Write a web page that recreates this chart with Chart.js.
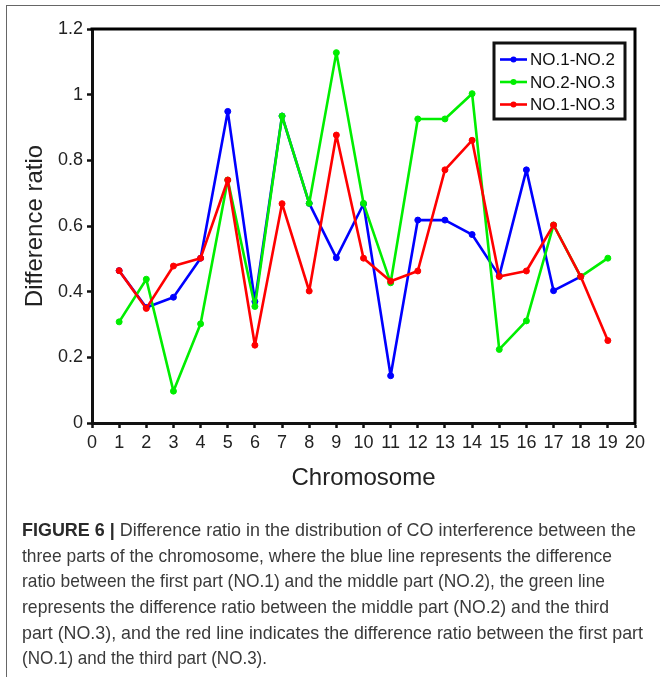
<!DOCTYPE html>
<html>
<head>
<meta charset="utf-8">
<script src="https://cdn.jsdelivr.net/npm/chart.js@4.4.1/dist/chart.umd.min.js"></script>
<style>
  html, body { margin: 0; padding: 0; background: #fff; }
  #wrap { position: relative; width: 660px; height: 677px; overflow: hidden; }
  #frameTop { position: absolute; left: 7px; top: 5px; width: 653px; height: 0; border-top: 1.5px solid #666; }
  #frameLeft { position: absolute; left: 6px; top: 5px; width: 0; height: 672px; border-left: 1.5px solid #666; }
  canvas { position: absolute; left: 0; top: 0; }
  .cap { position: absolute; left: 22px; white-space: nowrap; font-family: "Liberation Sans Narrow", "Liberation Sans", Arial, sans-serif; font-size: 19px; line-height: 20px; color: #3a3a3a; transform-origin: 0 50%; }
  .cap b { color: #2a2a2a; }
</style>
</head>
<body>
<div id="wrap">
  <div id="frameTop"></div>
  <div id="frameLeft"></div>
  <canvas id="c" width="660" height="677"></canvas>
  <div class="cap" data-w="614" style="top:520px"><b>FIGURE 6 |</b> Difference ratio in the distribution of CO interference between the</div>
  <div class="cap" data-w="590" style="top:546px">three parts of the chromosome, where the blue line represents the difference</div>
  <div class="cap" data-w="583" style="top:571px">ratio between the first part (NO.1) and the middle part (NO.2), the green line</div>
  <div class="cap" data-w="587" style="top:597px">represents the difference ratio between the middle part (NO.2) and the third</div>
  <div class="cap" data-w="621" style="top:623px">part (NO.3), and the red line indicates the difference ratio between the first part</div>
  <div class="cap" data-w="245" style="top:648px">(NO.1) and the third part (NO.3).</div>
</div>
<script>
// ---- data ----
const chromosomes = [1, 2, 3, 4, 5, 6, 7, 8, 9, 10, 11, 12, 13, 14, 15, 16, 17, 18, 19];
const seriesNames = ['NO.1-NO.2', 'NO.2-NO.3', 'NO.1-NO.3'];
const no12 = [0.464, 0.352, 0.383, 0.502, 0.949, 0.370, 0.935, 0.669, 0.503, 0.667, 0.144, 0.618, 0.618, 0.574, 0.448, 0.771, 0.403, 0.446, null];
const no23 = [0.308, 0.438, 0.097, 0.302, 0.740, 0.355, 0.935, 0.669, 1.128, 0.669, 0.427, 0.926, 0.926, 1.003, 0.224, 0.311, 0.603, 0.446, 0.502];
const no13 = [0.464, 0.349, 0.478, 0.502, 0.740, 0.237, 0.668, 0.402, 0.877, 0.502, 0.432, 0.463, 0.771, 0.861, 0.446, 0.463, 0.603, 0.446, 0.251];
const xTickLabels = ['0','1','2','3','4','5','6','7','8','9','10','11','12','13','14','15','16','17','18','19','20'];
const yTickLabels = ['0','0.2','0.4','0.6','0.8','1','1.2'];

const FONT = '"Liberation Sans", Arial, sans-serif';
const colors = ['#0000ff', '#00ee00', '#ff0000'];
const seriesValues = [no12, no23, no13];

function toPoints(vals) {
  return chromosomes.map((c, i) => ({ x: c, y: vals[i] }));
}

const datasets = seriesValues.map((vals, i) => ({
  label: seriesNames[i],
  data: toPoints(vals),
  borderColor: colors[i],
  backgroundColor: colors[i],
  borderWidth: 2.6,
  borderJoinStyle: 'round',
  borderCapStyle: 'round',
  pointRadius: 3,
  pointBorderWidth: 1,
  pointBackgroundColor: colors[i],
  pointBorderColor: colors[i],
  tension: 0,
  spanGaps: false,
  order: 3 - i
}));

const framePlugin = {
  id: 'frame',
  afterDatasetsDraw(chart) {
    const { ctx, chartArea: a } = chart;
    ctx.save();
    ctx.strokeStyle = '#000';
    ctx.lineWidth = 3;
    ctx.beginPath();
    ctx.moveTo(a.left - 1.5, a.top);
    ctx.lineTo(a.right, a.top);
    ctx.lineTo(a.right, a.bottom + 1.5);
    ctx.stroke();
    ctx.restore();
  }
};

const legendPlugin = {
  id: 'customLegend',
  afterDraw(chart) {
    const { ctx } = chart;
    const bx = 494, by = 43, bw = 131, bh = 76;
    ctx.save();
    ctx.fillStyle = '#fff';
    ctx.fillRect(bx, by, bw, bh);
    ctx.strokeStyle = '#111';
    ctx.lineWidth = 3;
    ctx.strokeRect(bx, by, bw, bh);
    const rows = [59.5, 82, 104.5];
    chart.data.datasets.forEach((ds, i) => {
      const y = rows[i];
      ctx.strokeStyle = ds.borderColor;
      ctx.lineWidth = 2.6;
      ctx.beginPath();
      ctx.moveTo(500, y);
      ctx.lineTo(527, y);
      ctx.stroke();
      ctx.fillStyle = ds.borderColor;
      ctx.beginPath();
      ctx.arc(513.5, y, 3, 0, Math.PI * 2);
      ctx.fill();
      ctx.fillStyle = '#111';
      ctx.font = '17px ' + FONT;
      ctx.textBaseline = 'middle';
      ctx.textAlign = 'left';
      ctx.fillText(ds.label, 530, y + 1);
    });
    ctx.restore();
  }
};

new Chart(document.getElementById('c'), {
  type: 'line',
  data: { datasets },
  plugins: [framePlugin, legendPlugin],
  options: {
    responsive: false,
    animation: false,
    events: [],
    layout: { padding: { left: 0, top: 29, right: 25, bottom: 177 } },
    plugins: { legend: { display: false }, tooltip: { enabled: false } },
    scales: {
      x: {
        type: 'linear',
        min: 0, max: 20,
        afterFit(s) { s.height = 77; },
        ticks: {
          stepSize: 1,
          autoSkip: false,
          maxRotation: 0,
          color: '#222',
          padding: 4,
          font: { size: 18, family: FONT },
          callback: (v) => xTickLabels[Math.round(v)]
        },
        grid: { drawOnChartArea: false, drawTicks: true, tickLength: 5, tickWidth: 2.5, tickColor: '#111' },
        border: { display: true, color: '#111', width: 3 },
        title: { display: true, text: 'Chromosome', color: '#222', font: { size: 24, family: FONT, lineHeight: 1 }, padding: { top: 0, bottom: 10 } }
      },
      y: {
        type: 'linear',
        min: 0, max: 1.2,
        afterFit(s) { s.width = 92; },
        ticks: {
          stepSize: 0.2,
          color: '#222',
          padding: 4,
          font: { size: 18, family: FONT },
          callback: (v) => yTickLabels[Math.round(v * 5)]
        },
        grid: { drawOnChartArea: false, drawTicks: true, tickLength: 5, tickWidth: 2.5, tickColor: '#111' },
        border: { display: true, color: '#111', width: 3 },
        title: { display: true, text: 'Difference ratio', color: '#222', font: { size: 24, family: FONT, lineHeight: 1 }, padding: { top: 23, bottom: 0 } }
      }
    }
  }
});

// fit caption lines to the reference widths
document.querySelectorAll('.cap').forEach(el => {
  const target = parseFloat(el.dataset.w);
  const w = el.getBoundingClientRect().width;
  if (w > 0) el.style.transform = 'scaleX(' + (target / w) + ')';
});
</script>
</body>
</html>
